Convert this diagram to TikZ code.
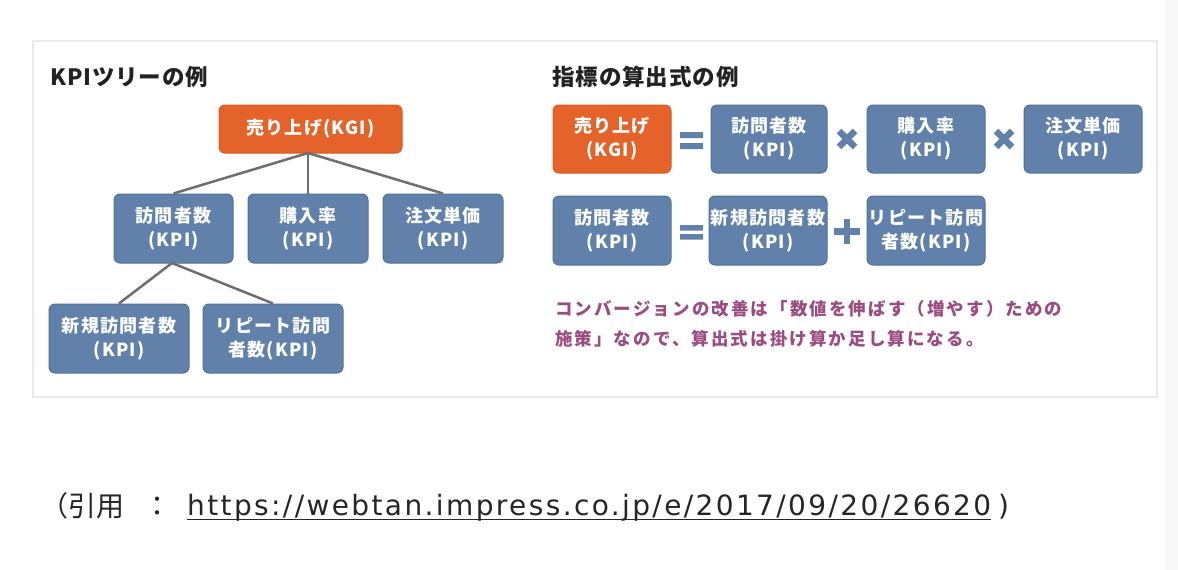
\documentclass[tikz,border=0pt]{standalone}
\usepackage{fontspec}
\newfontfamily\jp{Noto Sans CJK JP}[LetterSpace=7]
\newfontfamily\jptitle{Noto Sans CJK JP}[LetterSpace=4]
\newfontfamily\jpnote{Noto Sans CJK JP}[LetterSpace=12]
\newfontfamily\jpcap{Noto Sans CJK JP}
\newfontfamily\latcap{DejaVu Sans}[LetterSpace=8.5]
\definecolor{korange}{HTML}{E4632B}
\definecolor{korangeD}{HTML}{D95A22}
\definecolor{kblue}{HTML}{6181AA}
\definecolor{kblueD}{HTML}{52719A}
\definecolor{kline}{HTML}{6E6E6E}
\definecolor{kpurple}{HTML}{9B4C80}
\definecolor{ktitle}{HTML}{222222}
\definecolor{kcap}{HTML}{262626}
\definecolor{kpanel}{HTML}{E9E9E9}
\definecolor{kside}{HTML}{F8F8F8}
\begin{document}
\begin{tikzpicture}[x=1pt,y=-1pt,
  box/.style={rounded corners=6pt, fill=kblue, draw=kblueD, line width=1pt,
    inner sep=0pt, align=center, text=white,
    font=\jp\bfseries\fontsize{18}{24}\selectfont},
  kgi/.style={box, fill=korange, draw=korangeD},
  tline/.style={draw=kline, line width=2.5pt},
  title/.style={anchor=base west, inner sep=0pt, text=ktitle,
    font=\jptitle\bfseries\fontsize{22.5}{26}\selectfont},
  note/.style={anchor=base west, inner sep=0pt, text=kpurple,
    font=\jpnote\bfseries\fontsize{17.5}{20}\selectfont},
  op/.style={draw=kblue, line width=6.5pt},
  captext/.style={anchor=base west, inner sep=0pt, text=kcap}
]
\useasboundingbox (0,0) rectangle (1178,570);
\fill[white] (0,0) rectangle (1178,570);
\fill[kside] (1165,0) rectangle (1178,570);
\draw[draw=kpanel, line width=1.5pt, fill=white] (33,41) rectangle (1157,397);

% ---- left: KPI tree ----
\node[title] (t1) at (50,85) {KPIツリーの例};

\node[kgi, minimum width=183pt, minimum height=48pt] (root) at (310.5,129) {売り上げ(KGI)};
\node[box, minimum width=119pt, minimum height=69pt] (v) at (173.5,228.5) {訪問者数\\(KPI)};
\node[box, minimum width=120pt, minimum height=69pt] (c) at (308,228.5) {購入率\\(KPI)};
\node[box, minimum width=120pt, minimum height=69pt] (p) at (443,228.5) {注文単価\\(KPI)};
\node[box, minimum width=140pt, minimum height=69pt] (nv) at (119,338.5) {新規訪問者数\\(KPI)};
\node[box, minimum width=140pt, minimum height=69pt] (rv) at (273,338.5) {リピート訪問\\者数(KPI)};

\coordinate (rs) at (308,153);
\coordinate (vs) at (172,263);
\draw[tline] (rs) -- (v.north);
\draw[tline] (rs) -- (c.north);
\draw[tline] (rs) -- (p.north);
\draw[tline] (vs) -- (nv.north);
\draw[tline] (vs) -- (rv.north);

% ---- right: formulas ----
\node[title] (t2) at (552,85) {指標の算出式の例};

\node[kgi, minimum width=118pt, minimum height=68pt] (f1) at (612,139) {売り上げ\\(KGI)};
\node[box, minimum width=116pt, minimum height=68pt] (f2) at (769,139) {訪問者数\\(KPI)};
\node[box, minimum width=118pt, minimum height=68pt] (f3) at (926,139) {購入率\\(KPI)};
\node[box, minimum width=118pt, minimum height=68pt] (f4) at (1083,139) {注文単価\\(KPI)};

\node[box, minimum width=118pt, minimum height=69pt] (g1) at (612,230.5) {訪問者数\\(KPI)};
\node[box, minimum width=118pt, minimum height=69pt] (g2) at (768,230.5) {新規訪問者数\\(KPI)};
\node[box, minimum width=118pt, minimum height=69pt] (g3) at (926,230.5) {リピート訪問\\者数(KPI)};

% operators
\fill[kblue] (680,132) rectangle (703,138) (680,143) rectangle (703,149);
\fill[kblue] (680,225) rectangle (703,230.5) (680,234) rectangle (703,239.5);
\draw[op] (839,131) -- (855,147) (839,147) -- (855,131);
\draw[op] (996,131) -- (1012,147) (996,147) -- (1012,131);
\draw[op] (834,231.5) -- (860,231.5) (847,219) -- (847,244);

\node[note] (n1) at (555,315) {コンバージョンの改善は「数値を伸ばす（増やす）ための};
\node[note] (n2) at (555,345) {施策」なので、算出式は掛け算か足し算になる。};

% ---- caption ----
\node[captext, font=\jpcap\fontsize{28}{32}\selectfont] (c1) at (40,516) {（引用};
\node[captext, font=\jpcap\fontsize{28}{32}\selectfont] (c1b) at (143,516) {：};
\node[captext, font=\latcap\fontsize{28}{32}\selectfont] (url) at (187,515) {https://webtan.impress.co.jp/e/2017/09/20/26620};
\draw[kcap, line width=1.6pt] ([yshift=-4.5pt]url.base west) -- ([yshift=-4.5pt]url.base east);
\node[captext, font=\latcap\fontsize{28}{32}\selectfont] (c2) at (998,515) {)};
\end{tikzpicture}
\end{document}
